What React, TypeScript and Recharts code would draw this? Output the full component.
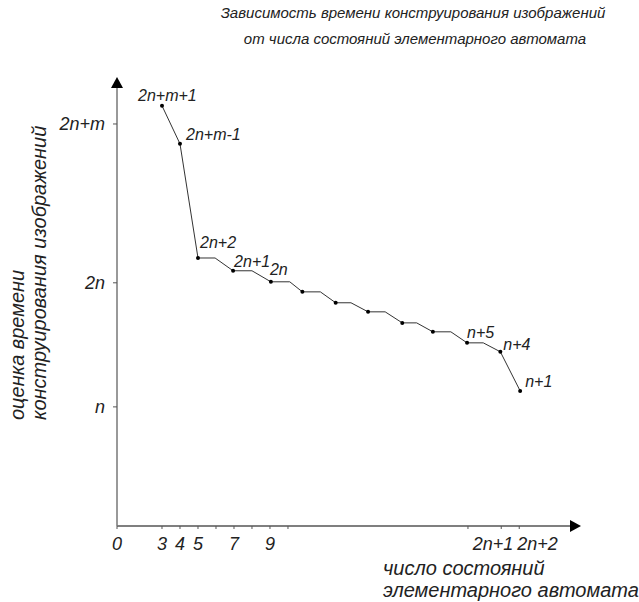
import React from "react"
import { LineChart, Line, XAxis, YAxis, LabelList } from "recharts"

// state count of the elementary automaton (x) and construction time estimate (y, n = 10)
const stateCount = [
  3, 4, 5, 5.95, 6.95, 8, 9.05, 10.1, 10.8, 11.8, 12.65, 13.5, 14.45, 15.4, 16.35, 17.15, 18.05, 19.05,
  19.95, 20.85, 21.8, 22.9,
]
const timeEstimate = [
  34.27, 31.2, 22.0, 22.0, 20.97, 20.97, 20.08, 20.08, 19.27, 19.27, 18.39, 18.39, 17.66, 17.66, 16.77,
  16.77, 16.05, 16.05, 15.16, 15.16, 14.44, 11.29,
]
const marked = [
  true, true, true, false, true, false, true, false, true, false, true, false, true, false, true, false,
  true, false, true, false, true, true,
]
const pointLabels = [
  "2n+m+1", "2n+m-1", "2n+2", "", "2n+1", "", "2n", "", "", "", "", "", "", "", "", "", "", "", "n+5", "",
  "n+4", "n+1",
]

const xTicks = [0.5, 3, 4, 5, 6, 7, 8, 9, 10, 20, 21.85, 22.85]
const xTickLabels = ["0", "3", "4", "5", "", "7", "", "9", "", "", "2n+1", "2n+2"]
const yTicks = [10, 20, 32.8]
const yTickLabels = ["n", "2n", "2n+m"]

const data = stateCount.map((x, i) => ({
  x,
  y: timeEstimate[i],
  marked: marked[i],
  label: pointLabels[i],
}))

const FONT = "'Liberation Sans', Arial, sans-serif"
const INK = "#222"

const labelOffset: Record<string, [number, number]> = {
  "2n+m+1": [-24, -5],
  "2n+m-1": [6, -4],
  "2n+2": [2, -10],
  "2n+1": [1, -4],
  "2n": [-1, -7],
  "n+5": [0, -5],
  "n+4": [3, -2],
  "n+1": [5, -4],
}

const xTickAnchor: Record<string, [string, number]> = {
  "2n+1": ["end", 12],
  "2n+2": ["start", -2],
}

function XTick({ x, y, index }: any) {
  const text = xTickLabels[index]
  if (!text) return <g />
  const [anchor, dx] = xTickAnchor[text] || ["middle", 0]
  return (
    <text x={x + dx} y={y} dy={21} textAnchor={anchor} fontSize={18} fontStyle="italic" fontFamily={FONT} fill={INK}>
      {text}
    </text>
  )
}

function YTick({ x, y, index }: any) {
  return (
    <text x={x} y={y} dy={6} textAnchor="end" fontSize={18} fontStyle="italic" fontFamily={FONT} fill={INK}>
      {yTickLabels[index]}
    </text>
  )
}

function PointDot({ cx, cy, payload, index }: any) {
  if (!payload.marked) return <g key={index} />
  return <circle key={index} cx={cx} cy={cy} r={2} fill="#000" />
}

function PointLabel({ x, y, value }: any) {
  if (!value) return null
  const [dx, dy] = labelOffset[value] || [0, 0]
  return (
    <text x={x + dx} y={y + dy} fontSize={16} fontStyle="italic" fontFamily={FONT} fill={INK}>
      {value}
    </text>
  )
}

export default function App() {
  return (
    <div style={{ position: "absolute", left: 0, top: 0, width: 639, height: 602, background: "#fff" }}>
      <svg width={639} height={602} style={{ position: "absolute", left: 0, top: 0 }}>
        <defs>
          <marker
            id="arrow"
            markerUnits="userSpaceOnUse"
            markerWidth={11}
            markerHeight={12}
            refX={0}
            refY={6}
            orient="auto-start-reverse"
          >
            <path d="M0,0 L11,6 L0,12 z" fill="#000" />
          </marker>
        </defs>
        <g fontFamily={FONT} fontStyle="italic" fill={INK}>
          <text x={413} y={18} fontSize={15} textAnchor="middle">
            Зависимость времени конструирования изображений
          </text>
          <text x={415} y={44} fontSize={15} textAnchor="middle">
            от числа состояний элементарного автомата
          </text>
          <text x={383} y={575} fontSize={20}>
            число состояний
          </text>
          <text x={383} y={597} fontSize={20}>
            элементарного автомата
          </text>
          <text transform="translate(24,420) rotate(-90)" fontSize={20}>
            оценка времени
          </text>
          <text transform="translate(46,420) rotate(-90)" fontSize={20}>
            конструирования изображений
          </text>
        </g>
      </svg>
      <div style={{ position: "absolute", left: 0, top: 0 }}>
        <LineChart width={639} height={602} data={data} margin={{ top: 88, right: 69, bottom: 46, left: 57 }}>
          <XAxis
            type="number"
            dataKey="x"
            height={30}
            domain={[0.5, 25.67]}
            ticks={xTicks}
            interval={0}
            axisLine={{ stroke: "#555", strokeWidth: 1.5, markerEnd: "url(#arrow)" }}
            tickLine={{ stroke: "#555" }}
            tickSize={3}
            tickMargin={0}
            tick={<XTick />}
          />
          <YAxis
            type="number"
            width={60}
            domain={[0.4, 35.7]}
            ticks={yTicks}
            interval={0}
            axisLine={{ stroke: "#777", strokeWidth: 1.5, markerStart: "url(#arrow)" }}
            tickLine={{ stroke: "#555" }}
            tickSize={4}
            tickMargin={8}
            tick={<YTick />}
          />
          <Line
            type="linear"
            dataKey="y"
            stroke="#333"
            strokeWidth={1}
            dot={PointDot}
            activeDot={false}
            isAnimationActive={false}
          >
            <LabelList dataKey="label" content={<PointLabel />} />
          </Line>
        </LineChart>
      </div>
    </div>
  )
}
